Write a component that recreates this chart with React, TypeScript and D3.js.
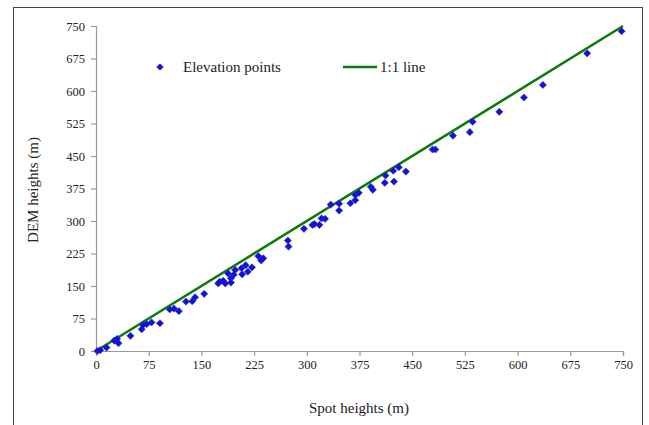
import React, { useEffect, useRef } from "react";
import * as d3 from "d3";

// spot heights (x) vs DEM heights (y)
const spotHeights = [
  2, 6, 15, 26, 30, 32, 49, 65, 67, 72, 79, 91, 105, 111, 118, 128, 137, 141, 154,
  174, 176, 181, 184, 192, 192, 188, 196, 198, 207, 208, 213, 216, 222, 231, 235,
  238, 273, 274, 296, 308, 311, 318, 321, 326, 334, 346, 346, 362, 369, 369, 374,
  391, 394, 411, 412, 423, 424, 431, 441, 479, 483, 508, 532, 536, 574, 609, 636,
  699, 748,
];
const demHeights = [
  0, 2, 8, 24, 28, 18, 35, 50, 60, 62, 66, 64, 96, 98, 92, 114, 115, 124, 132,
  156, 160, 162, 156, 158, 168, 179, 176, 187, 191, 177, 198, 183, 193, 219, 209,
  214, 255, 241, 282, 291, 293, 291, 306, 305, 338, 340, 324, 341, 348, 360, 365,
  379, 372, 388, 405, 416, 391, 424, 414, 465, 465, 497, 505, 529, 552, 585, 614,
  687, 738,
];
const ticks = [0, 75, 150, 225, 300, 375, 450, 525, 600, 675, 750];
const oneToOne = [0, 750];

const width = 649;
const height = 425;

const App = () => {
  const svgRef = useRef<SVGSVGElement>(null);

  useEffect(() => {
    const svg = d3.select(svgRef.current);
    svg.selectAll("*").remove();

    const font = "'Liberation Serif', 'Times New Roman', serif";
    const x = d3.scaleLinear().domain([0, 750]).range([96, 623]);
    const y = d3.scaleLinear().domain([0, 750]).range([351, 26]);

    // outer frame
    svg
      .append("rect")
      .attr("x", 13.5)
      .attr("y", 7.5)
      .attr("width", 629)
      .attr("height", 430)
      .attr("fill", "white")
      .attr("stroke", "#444")
      .attr("stroke-width", 1);

    // axes
    const xAxis = svg
      .append("g")
      .attr("transform", `translate(0,${y(0)})`)
      .call(d3.axisBottom(x).tickValues(ticks).tickSize(5).tickSizeOuter(5).tickPadding(4));
    const yAxis = svg
      .append("g")
      .attr("transform", `translate(${x(0)},0)`)
      .call(d3.axisLeft(y).tickValues(ticks).tickSize(5).tickSizeOuter(5).tickPadding(6));

    [xAxis, yAxis].forEach((g) => {
      g.attr("font-family", null).attr("font-size", null);
      g.selectAll("path, line").attr("stroke", "#999").attr("stroke-width", 1.2);
      g.selectAll("text")
        .style("font-family", font)
        .style("font-size", "12.5px")
        .attr("fill", "#222");
    });

    // 1:1 line
    const line = d3
      .line<number>()
      .x((d) => x(d))
      .y((d) => y(d));
    svg
      .append("path")
      .datum(oneToOne)
      .attr("d", line)
      .attr("fill", "none")
      .attr("stroke", "#0a7a0a")
      .attr("stroke-width", 2.5);

    // points
    const diamond = d3.symbol().type(d3.symbolSquare).size(26);
    svg
      .append("g")
      .selectAll("path")
      .data(spotHeights.map((s, i) => [s, demHeights[i]]))
      .enter()
      .append("path")
      .attr("d", diamond)
      .attr("transform", (d) => `translate(${x(d[0])},${y(d[1])}) rotate(45)`)
      .attr("fill", "#1010e0")
      .attr("stroke", "#3030a0")
      .attr("stroke-width", 0.5);

    // legend
    const legend = svg.append("g").style("font-family", font).style("font-size", "15px").attr("fill", "#222");
    legend
      .append("path")
      .attr("d", diamond)
      .attr("transform", "translate(160,67) rotate(45)")
      .attr("fill", "#1010e0");
    legend.append("text").attr("x", 183).attr("y", 72).text("Elevation points");
    legend
      .append("line")
      .attr("x1", 343)
      .attr("x2", 377)
      .attr("y1", 67)
      .attr("y2", 67)
      .attr("stroke", "#0a7a0a")
      .attr("stroke-width", 2.5);
    legend.append("text").attr("x", 380).attr("y", 72).text("1:1 line");

    // axis titles
    svg
      .append("text")
      .attr("x", 359)
      .attr("y", 413)
      .attr("text-anchor", "middle")
      .style("font-family", font)
      .style("font-size", "15px")
      .attr("fill", "#222")
      .text("Spot heights (m)");
    svg
      .append("text")
      .attr("transform", "translate(38,190) rotate(-90)")
      .attr("text-anchor", "middle")
      .style("font-family", font)
      .style("font-size", "15px")
      .attr("fill", "#222")
      .text("DEM heights (m)");
  }, []);

  return (
    <svg
      ref={svgRef}
      width={width}
      height={height}
      style={{ position: "absolute", left: 0, top: 0, background: "white" }}
    ></svg>
  );
};

export default App;
